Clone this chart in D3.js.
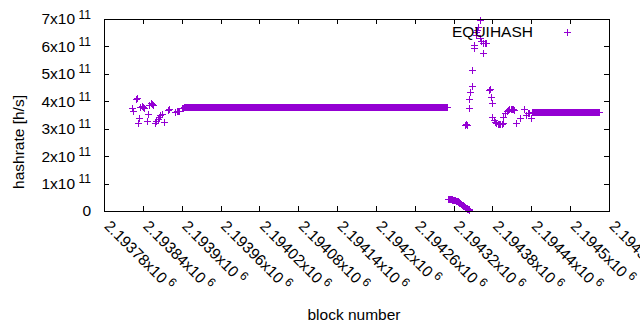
<!DOCTYPE html>
<html>
<head>
<meta charset="utf-8">
<script src="https://cdn.jsdelivr.net/npm/d3@7"></script>
<style>
  body { margin: 0; background: #fff; }
  text { font-family: "Liberation Sans", Arial, sans-serif; fill: #000; }
</style>
</head>
<body>
<svg id="chart" width="640" height="330"></svg>
<script>
// DATA
const seriesName = "EQUIHASH";
const baseBlock = 2193780;           // block numbers below are offsets from this
const xTickValues = [2193780, 2193840, 2193900, 2193960, 2194020, 2194080, 2194140,
                     2194200, 2194260, 2194320, 2194380, 2194440, 2194500, 2194560];
const yTickValues = [0, 1e11, 2e11, 3e11, 4e11, 5e11, 6e11, 7e11];

// hashrate values are in units of 1e11 h/s
const warmupOffsets = [43, 45, 50, 51, 53, 54, 56, 58, 60, 61, 62, 66, 68, 70, 72, 74, 75, 76, 79, 81,
                       83, 85, 87, 89, 93, 99, 100, 101, 110, 112, 114, 116, 120, 122];
const warmupRates = [3.76, 3.65, 4.10, 4.12, 3.20, 3.40, 3.78, 3.84, 3.80, 3.78, 3.76, 3.28, 3.52, 3.86, 3.92, 3.90, 3.88, 3.87, 3.21, 3.28,
                     3.35, 3.43, 3.50, 3.55, 3.26, 3.68, 3.71, 3.72, 3.62, 3.63, 3.64, 3.63, 3.74, 3.76];

// consecutive blocks starting at plateauAFirst
const plateauAFirst = 124;
const plateauARates = [
  3.79,3.79,3.79,3.79,3.79,3.79,3.79,3.79,3.79,3.79,3.79,3.79,3.79,3.79,3.79,3.79,3.79,3.79,3.79,3.79,
  3.79,3.79,3.79,3.79,3.79,3.79,3.79,3.79,3.79,3.79,3.79,3.79,3.79,3.79,3.79,3.79,3.79,3.79,3.79,3.79,
  3.79,3.79,3.79,3.79,3.79,3.79,3.79,3.79,3.79,3.79,3.79,3.79,3.79,3.79,3.79,3.79,3.79,3.79,3.79,3.79,
  3.79,3.79,3.79,3.79,3.79,3.79,3.79,3.79,3.79,3.79,3.79,3.79,3.79,3.79,3.79,3.79,3.79,3.79,3.79,3.79,
  3.79,3.79,3.79,3.79,3.79,3.79,3.79,3.79,3.79,3.79,3.79,3.79,3.79,3.79,3.79,3.79,3.79,3.79,3.79,3.79,
  3.79,3.79,3.79,3.79,3.79,3.79,3.79,3.79,3.79,3.79,3.79,3.79,3.79,3.79,3.79,3.79,3.79,3.79,3.79,3.79,
  3.79,3.79,3.79,3.79,3.79,3.79,3.79,3.79,3.79,3.79,3.79,3.79,3.79,3.79,3.79,3.79,3.79,3.79,3.79,3.79,
  3.79,3.79,3.79,3.79,3.79,3.79,3.79,3.79,3.79,3.79,3.79,3.79,3.79,3.79,3.79,3.79,3.79,3.79,3.79,3.79,
  3.79,3.79,3.79,3.79,3.79,3.79,3.79,3.79,3.79,3.79,3.79,3.79,3.79,3.79,3.79,3.79,3.79,3.79,3.79,3.79,
  3.79,3.79,3.79,3.79,3.79,3.79,3.79,3.79,3.79,3.79,3.79,3.79,3.79,3.79,3.79,3.79,3.79,3.79,3.79,3.79,
  3.79,3.79,3.79,3.79,3.79,3.79,3.79,3.79,3.79,3.79,3.79,3.79,3.79,3.79,3.79,3.79,3.79,3.79,3.79,3.79,
  3.79,3.79,3.79,3.79,3.79,3.79,3.79,3.79,3.79,3.79,3.79,3.79,3.79,3.79,3.79,3.79,3.79,3.79,3.79,3.79,
  3.79,3.79,3.79,3.79,3.79,3.79,3.79,3.79,3.79,3.79,3.79,3.79,3.79,3.79,3.79,3.79,3.79,3.79,3.79,3.79,
  3.79,3.79,3.79,3.79,3.79,3.79,3.79,3.79,3.79,3.79,3.79,3.79,3.79,3.79,3.79,3.79,3.79,3.79,3.79,3.79,
  3.79,3.79,3.79,3.79,3.79,3.79,3.79,3.79,3.79,3.79,3.79,3.79,3.79,3.79,3.79,3.79,3.79,3.79,3.79,3.79,
  3.79,3.79,3.79,3.79,3.79,3.79,3.79,3.79,3.79,3.79,3.79,3.79,3.79,3.79,3.79,3.79,3.79,3.79,3.79,3.79,
  3.79,3.79,3.79,3.79,3.79,3.79,3.79,3.79,3.79,3.79,3.79,3.79,3.79,3.79,3.79,3.79,3.79,3.79,3.79,3.79,
  3.79,3.79,3.79,3.79,3.79,3.79,3.79,3.79,3.79,3.79,3.79,3.79,3.79,3.79,3.79,3.79,3.79,3.79,3.79,3.79,
  3.79,3.79,3.79,3.79,3.79,3.79,3.79,3.79,3.79,3.79,3.79,3.79,3.79,3.79,3.79,3.79,3.79,3.79,3.79,3.79,
  3.79,3.79,3.79,3.79,3.79,3.79,3.79,3.79,3.79,3.79,3.79,3.79,3.79,3.79,3.79,3.79,3.79,3.79,3.79,3.79,
  3.79,3.79,3.79,3.79,3.79,3.79,3.79
];

// consecutive blocks starting at dipFirst
const dipFirst = 532;
const dipRates = [0.43, 0.43, 0.43, 0.43, 0.42, 0.42, 0.41, 0.41, 0.40, 0.40,
                  0.39, 0.38, 0.38, 0.37, 0.35, 0.33, 0.31, 0.30, 0.28, 0.26,
                  0.24, 0.22, 0.21, 0.19, 0.17, 0.15, 0.13, 0.12, 0.10, 0.09,
                  0.07, 0.06, 0.04];

const spikeOffsets = [557, 559, 561, 563, 564, 565, 568, 569, 571, 572, 574, 575, 576, 577, 580, 581, 583, 585, 586, 588,
                      590, 595, 596, 597, 599, 600, 602, 604, 606, 608, 610, 612, 614, 616, 617, 619, 622, 624, 626, 628,
                      630, 632, 634, 637, 643, 648, 652, 655, 657, 659];
const spikeRates = [3.13, 3.16, 3.12, 3.74, 4.07, 4.35, 4.56, 5.13, 5.93, 6.05, 6.42, 6.52, 6.60, 6.72, 6.96, 6.32, 6.20, 6.14, 5.77, 6.11,
                    6.12, 4.41, 4.43, 4.17, 3.93, 3.44, 3.32, 3.24, 3.20, 3.18, 3.17, 3.17, 3.19, 3.21, 3.44, 3.56, 3.64, 3.68, 3.71, 3.72,
                    3.72, 3.71, 3.70, 3.20, 3.38, 3.71, 3.50, 3.56, 3.57, 3.38];

// consecutive blocks starting at plateauBFirst
const plateauBFirst = 661;
const plateauBRates = [
  3.60,3.60,3.60,3.60,3.60,3.60,3.60,3.60,3.60,3.60,3.60,3.60,3.60,3.60,3.60,3.60,3.60,3.60,3.60,3.60,
  3.60,3.60,3.60,3.60,3.60,3.60,3.60,3.60,3.60,3.60,3.60,3.60,3.60,3.60,3.60,3.60,3.60,3.60,3.60,3.60,
  3.60,3.60,3.60,3.60,3.60,3.60,3.60,3.60,3.60,3.60,3.60,3.60,3.60,3.60,3.60,3.60,3.60,3.60,3.60,3.60,
  3.60,3.60,3.60,3.60,3.60,3.60,3.60,3.60,3.60,3.60,3.60,3.60,3.60,3.60,3.60,3.60,3.60,3.60,3.60,3.60,
  3.60,3.60,3.60,3.60,3.60,3.60,3.60,3.60,3.60,3.60,3.60,3.60,3.60,3.60,3.60,3.60,3.60,3.60,3.60,3.60,
  3.60,3.60,3.60,3.60,3.60
];

// collect everything into {block, rate} points
const points = [];
warmupOffsets.forEach((o, i) => points.push({block: baseBlock + o, rate: warmupRates[i] * 1e11}));
plateauARates.forEach((r, i) => points.push({block: baseBlock + plateauAFirst + i, rate: r * 1e11}));
dipRates.forEach((r, i) => points.push({block: baseBlock + dipFirst + i, rate: r * 1e11}));
spikeOffsets.forEach((o, i) => points.push({block: baseBlock + o, rate: spikeRates[i] * 1e11}));
plateauBRates.forEach((r, i) => points.push({block: baseBlock + plateauBFirst + i, rate: r * 1e11}));

// CHART
const color = "#9400d3";
const fontSize = "15.5px", supSize = "12px";
const svg = d3.select("#chart");
const margin = {top: 19, right: 31, bottom: 119, left: 104},
      width = 640 - margin.left - margin.right,
      height = 330 - margin.top - margin.bottom;

svg.append("rect").attr("width", 640).attr("height", 330).attr("fill", "#fff");
const g = svg.append("g").attr("transform", `translate(${margin.left},${margin.top})`);

const x = d3.scaleLinear().domain([xTickValues[0], xTickValues[xTickValues.length - 1]]).range([0, width]);
const y = d3.scaleLinear().domain([0, 7e11]).range([height, 0]);

// ticks point inward on all four sides (gnuplot style)
const tickLen = 5;
function styleAxis(sel) {
    sel.select(".domain").remove();
    sel.selectAll(".tick line").attr("stroke", "#000").attr("shape-rendering", "crispEdges");
    sel.selectAll(".tick text").remove();
}
g.append("g").attr("transform", `translate(0,${height})`)
    .call(d3.axisBottom(x).tickValues(xTickValues).tickSize(-tickLen)).call(styleAxis);
g.append("g")
    .call(d3.axisTop(x).tickValues(xTickValues).tickSize(-tickLen)).call(styleAxis);
g.append("g")
    .call(d3.axisLeft(y).tickValues(yTickValues).tickSize(-tickLen)).call(styleAxis);
g.append("g").attr("transform", `translate(${width},0)`)
    .call(d3.axisRight(y).tickValues(yTickValues).tickSize(-tickLen)).call(styleAxis);

// y tick labels: "Nx10^11"
g.append("g").selectAll("text")
    .data(yTickValues)
    .join("text")
    .attr("x", -13)
    .attr("y", d => y(d) + 5.4)
    .attr("text-anchor", "end")
    .style("font-size", fontSize)
    .each(function(d) {
        const t = d3.select(this);
        if (d === 0) { t.text("0"); return; }
        t.append("tspan").text(`${d / 1e11}x10`);
        t.append("tspan").attr("dx", 3.5).attr("dy", -5.8).style("font-size", supSize).text("11");
    });

// x tick labels, rotated, "2.19378x10^6"
g.append("g").selectAll("text")
    .data(xTickValues)
    .join("text")
    .attr("transform", d => `translate(${x(d) - 0.5},${height + 16}) rotate(45)`)
    .attr("text-anchor", "start")
    .style("font-size", fontSize)
    .each(function(d) {
        const t = d3.select(this);
        t.append("tspan").text(`${+(d / 1e6).toPrecision(6)}x10`);
        t.append("tspan").attr("dx", 3.5).attr("dy", -5.8).style("font-size", supSize).text("6");
    });

// axis titles
svg.append("text")
    .attr("transform", "translate(23.5,142) rotate(-90)")
    .attr("text-anchor", "middle")
    .style("font-size", fontSize)
    .text("hashrate [h/s]");
svg.append("text")
    .attr("x", 354).attr("y", 320)
    .attr("text-anchor", "middle")
    .style("font-size", fontSize)
    .text("block number");

// points as "+" marks
const plus = (cx, cy) => `M${cx - 3.5},${cy}h7M${cx},${cy - 3.5}v7`;
g.append("g")
    .attr("shape-rendering", "crispEdges")
    .selectAll("path")
    .data(points)
    .join("path")
    .attr("d", d => plus(Math.round(x(d.block)) + 0.5, Math.round(y(d.rate)) + 0.5))
    .attr("fill", "none")
    .attr("stroke", color)
    .attr("stroke-width", 1);

// frame
g.append("rect")
    .attr("x", 0).attr("y", 0)
    .attr("width", width).attr("height", height)
    .attr("fill", "none").attr("stroke", "#000")
    .attr("shape-rendering", "crispEdges");

// key
svg.append("text")
    .attr("x", 533).attr("y", 37.3)
    .attr("text-anchor", "end")
    .style("font-size", fontSize)
    .text(seriesName);
svg.append("path")
    .attr("d", plus(567.5, 32.5))
    .attr("stroke", color).attr("fill", "none")
    .attr("shape-rendering", "crispEdges");
</script>
</body>
</html>
